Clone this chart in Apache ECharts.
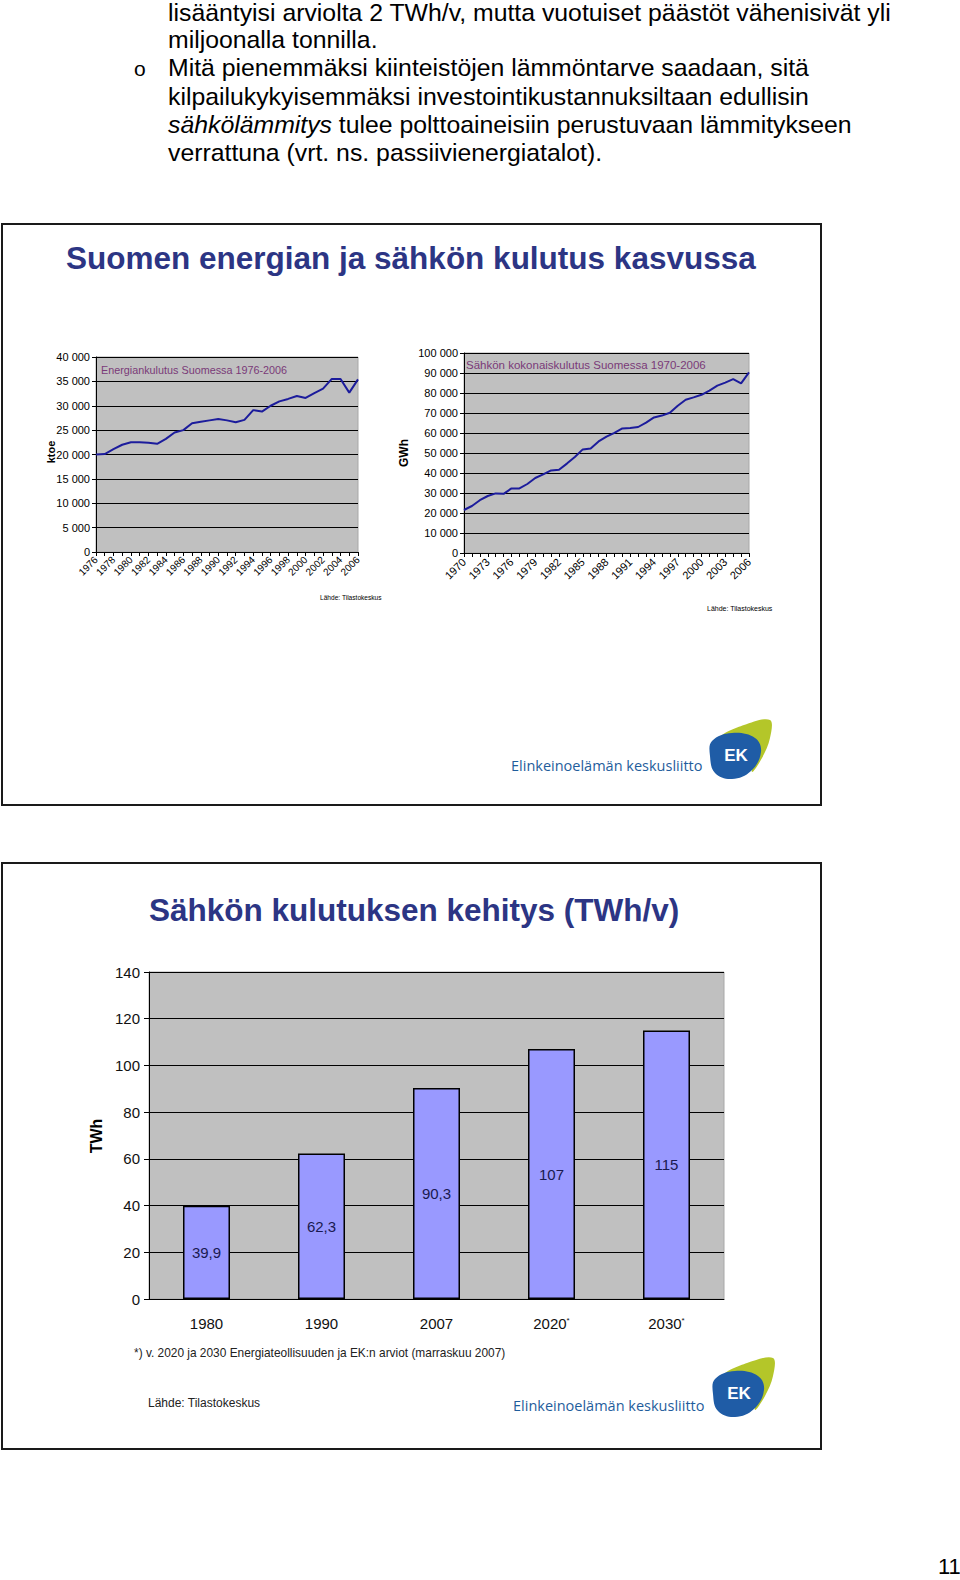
<!DOCTYPE html>
<html><head><meta charset="utf-8">
<script src="https://cdn.jsdelivr.net/npm/echarts@6/dist/echarts.min.js"></script>
<style>html,body{margin:0;padding:0;background:#fff}#c{width:960px;height:1580px}</style>
</head><body><div id="c"></div>
<script>
// ---- data ----
const energyYears = [];
for (let y = 1976; y <= 2006; y++) energyYears.push(String(y));
const energyKtoe = [20000,20100,21100,22000,22500,22500,22400,22200,23200,24500,25000,26400,26700,27000,27300,27000,26600,27100,29100,28800,30000,30900,31400,32000,31600,32600,33500,35500,35500,32700,35400];

const elecYears = [];
for (let y = 1970; y <= 2006; y++) elecYears.push(String(y));
const elecGWh = [21500,23500,26400,28500,29800,29600,32300,32300,34500,37500,39300,41300,41600,44700,48000,51800,52300,55800,58200,60100,62300,62500,63000,65200,67800,68700,70100,73600,76600,77800,79100,81200,83700,85200,86900,84800,90300];

const barCats = ['1980','1990','2007','2020*','2030*'];
const barTWh = [39.9,62.3,90.3,107,115];

const paraLines = [
  'lisääntyisi arviolta 2 TWh/v, mutta vuotuiset päästöt vähenisivät yli',
  'miljoonalla tonnilla.',
  'Mitä pienemmäksi kiinteistöjen lämmöntarve saadaan, sitä',
  'kilpailukykyisemmäksi investointikustannuksiltaan edullisin',
  '{i|sähkölämmitys} tulee polttoaineisiin perustuvaan lämmitykseen',
  'verrattuna (vrt. ns. passiivienergiatalot).'
];

// ---- helpers ----
const NARROW = "'Liberation Sans Narrow','Arial Narrow','Liberation Sans',Arial,sans-serif";
const SANS = "'Liberation Sans',Arial,sans-serif";
const thou = v => String(v).replace(/\B(?=(\d{3})+(?!\d))/g, ' ');
const TITLE_COL = '#2c3584';
const LOGO_COL = '#1f5d9c';

function txt(text, x, y, o) {
  o = o || {};
  return {
    type: 'text', x: x, y: y, rotation: o.rotation || 0, z: 10,
    style: Object.assign({
      text: text, fill: o.fill || '#000', fontSize: o.fontSize || 12,
      fontFamily: o.fontFamily || SANS, fontWeight: o.fontWeight || 'normal',
      fontStyle: o.fontStyle || 'normal',
      textAlign: o.align || 'left', textVerticalAlign: 'middle'
    }, o.rich ? {rich: o.rich} : {})
  };
}
function logo(x, y) {
  return {
    type: 'group', x: x, y: y, z: 10,
    children: [
      {type: 'polygon', shape: {points: [[12, 16], [34, 5], [60, 0], [60, 18], [52, 38], [42, 52], [44, 34], [34, 20]], smooth: 0.35}, style: {fill: '#b4c629'}},
      {type: 'polygon', shape: {points: [[2, 21], [22, 13], [45, 18], [51, 32], [41, 51], [22, 59], [5, 53], [0, 36]], smooth: 0.4}, style: {fill: '#1f5ca6'}},
      {type: 'text', x: 26, y: 35, style: {text: 'EK', fill: '#fff', fontSize: 17, fontWeight: 'bold', fontFamily: SANS, textAlign: 'center', textVerticalAlign: 'middle'}}
    ]
  };
}

const graphics = [];
// paragraph
const lineY = [12.5, 39.5, 67.8, 96, 124.2, 152.4];
paraLines.forEach((t, i) => {
  graphics.push(txt(t, 168, lineY[i], {fontSize: 24.8, fill: '#000', rich: {i: {fontStyle: 'italic', fontSize: 24.8, fontFamily: SANS}}}));
});
graphics.push(txt('o', 134, 68, {fontSize: 21}));
// boxes
graphics.push({type: 'rect', shape: {x: 2, y: 224, width: 819, height: 581}, style: {fill: 'none', stroke: '#1a1a1a', lineWidth: 2}, z: 5});
graphics.push({type: 'rect', shape: {x: 2, y: 863, width: 819, height: 586}, style: {fill: 'none', stroke: '#1a1a1a', lineWidth: 2}, z: 5});
// slide titles
graphics.push(txt('Suomen energian ja sähkön kulutus kasvussa', 66, 258, {fontSize: 31.5, fontWeight: 'bold', fill: TITLE_COL}));
graphics.push(txt('Sähkön kulutuksen kehitys (TWh/v)', 149, 910, {fontSize: 31.5, fontWeight: 'bold', fill: TITLE_COL}));
// small chart inner titles
graphics.push(txt('Energiankulutus Suomessa 1976-2006', 101, 370, {fontSize: 10.8, fontFamily: NARROW, fill: '#7a3a78'}));
graphics.push(txt('Sähkön kokonaiskulutus Suomessa 1970-2006', 466, 365, {fontSize: 11.5, fontFamily: NARROW, fill: '#7a3a78'}));
// axis names
graphics.push(txt('ktoe', 51, 452, {fontSize: 11, fontWeight: 'bold', rotation: Math.PI / 2, align: 'center'}));
graphics.push(txt('GWh', 404, 453, {fontSize: 12, fontWeight: 'bold', rotation: Math.PI / 2, align: 'center'}));
graphics.push(txt('TWh', 96, 1136, {fontSize: 16, fontWeight: 'bold', rotation: Math.PI / 2, align: 'center'}));
// sources
graphics.push(txt('Lähde: Tilastokeskus', 320, 597, {fontSize: 6.6, fontFamily: NARROW}));
graphics.push(txt('Lähde: Tilastokeskus', 707, 608, {fontSize: 7, fontFamily: NARROW}));
graphics.push(txt('*) v. 2020 ja 2030 Energiateollisuuden ja EK:n arviot (marraskuu 2007)', 134, 1353, {fontSize: 11.9, fontFamily: NARROW, fill: '#222'}));
graphics.push(txt('Lähde: Tilastokeskus', 148, 1403, {fontSize: 12, fontFamily: NARROW, fill: '#222'}));
// logos
graphics.push(txt('Elinkeinoelämän keskusliitto', 511, 765, {fontSize: 14.5, fill: LOGO_COL, fontFamily: "'Open Sans','DejaVu Sans',sans-serif"}));
graphics.push(logo(710, 720));
graphics.push(txt('Elinkeinoelämän keskusliitto', 513, 1405, {fontSize: 14.5, fill: LOGO_COL, fontFamily: "'Open Sans','DejaVu Sans',sans-serif"}));
graphics.push(logo(713, 1358));
// page number
graphics.push(txt('11', 938, 1566, {fontSize: 22, fontFamily: SANS}));

const chart = echarts.init(document.getElementById('c'), null, {renderer: 'svg', width: 960, height: 1580});

const smallAxisLabel = {fontSize: 11, fontFamily: NARROW, color: '#000'};
chart.setOption({
  animation: false,
  backgroundColor: '#fff',
  grid: [
    {left: 96, right: 602, top: 357, bottom: 1028, show: true, backgroundColor: '#c0c0c0', borderColor: '#a8a8a8', borderWidth: 1},
    {left: 464, right: 211, top: 353, bottom: 1027, show: true, backgroundColor: '#c0c0c0', borderColor: '#a8a8a8', borderWidth: 1},
    {left: 149, right: 236, top: 972, bottom: 281, show: true, backgroundColor: '#c0c0c0', borderColor: '#a8a8a8', borderWidth: 1}
  ],
  xAxis: [
    {type: 'category', gridIndex: 0, data: energyYears, boundaryGap: false,
     axisLine: {lineStyle: {color: '#000'}}, axisTick: {interval: 0, length: 4, lineStyle: {color: '#000'}},
     axisLabel: {interval: 1, rotate: 45, fontSize: 10, margin: 6, fontFamily: NARROW, color: '#000'}},
    {type: 'category', gridIndex: 1, data: elecYears, boundaryGap: false,
     axisLine: {lineStyle: {color: '#000'}}, axisTick: {interval: 0, length: 4, lineStyle: {color: '#000'}},
     axisLabel: {interval: 2, rotate: 45, fontSize: 11, margin: 7, fontFamily: NARROW, color: '#000'}},
    {type: 'category', gridIndex: 2, data: barCats,
     axisLine: {lineStyle: {color: '#000'}}, axisTick: {length: 5, lineStyle: {color: '#000'}},
     axisLabel: {fontSize: 15, fontFamily: NARROW, color: '#111', margin: 17,
       formatter: v => v.endsWith('*') ? '{a|' + v.slice(0, -1) + '}{s|*}' : v,
       rich: {a: {fontSize: 15, fontFamily: NARROW, color: '#111'}, s: {fontSize: 8, fontFamily: NARROW, color: '#111', verticalAlign: 'top', padding: [0, 0, 6, 0]}}}}
  ],
  yAxis: [
    {type: 'value', gridIndex: 0, min: 0, max: 40000, interval: 5000,
     axisLine: {show: true, lineStyle: {color: '#000'}}, axisTick: {show: true, length: 4, lineStyle: {color: '#000'}},
     splitLine: {lineStyle: {color: '#000', width: 1}},
     axisLabel: Object.assign({formatter: thou, margin: 6}, smallAxisLabel)},
    {type: 'value', gridIndex: 1, min: 0, max: 100000, interval: 10000,
     axisLine: {show: true, lineStyle: {color: '#000'}}, axisTick: {show: true, length: 4, lineStyle: {color: '#000'}},
     splitLine: {lineStyle: {color: '#000', width: 1}},
     axisLabel: Object.assign({formatter: thou, margin: 6}, smallAxisLabel)},
    {type: 'value', gridIndex: 2, min: 0, max: 140, interval: 20,
     axisLine: {show: true, lineStyle: {color: '#000'}}, axisTick: {show: true, length: 5, lineStyle: {color: '#000'}},
     splitLine: {lineStyle: {color: '#000', width: 1}},
     axisLabel: {fontSize: 15, fontFamily: NARROW, color: '#111', margin: 9}}
  ],
  series: [
    {type: 'line', xAxisIndex: 0, yAxisIndex: 0, data: energyKtoe, symbol: 'none', lineStyle: {color: '#1c1c9c', width: 2}},
    {type: 'line', xAxisIndex: 1, yAxisIndex: 1, data: elecGWh, symbol: 'none', lineStyle: {color: '#1c1c9c', width: 2}},
    {type: 'bar', xAxisIndex: 2, yAxisIndex: 2, data: barTWh, barWidth: 47,
     itemStyle: {color: '#9999ff', borderColor: '#000', borderWidth: 1.5},
     label: {show: true, position: 'inside', fontSize: 15, fontFamily: NARROW, color: '#1a1a50',
       formatter: p => String(p.value).replace('.', ',')}}
  ],
  graphic: graphics
});
</script></body></html>
